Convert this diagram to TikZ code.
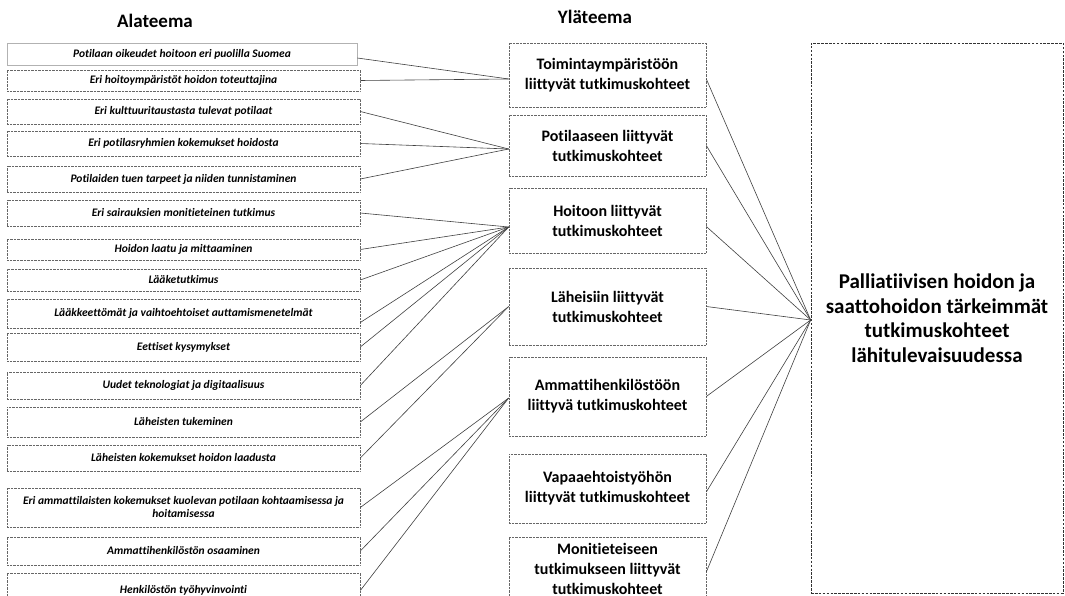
\documentclass[tikz,border=0pt]{standalone}
\usepackage{fontspec}
\setmainfont{Carlito}[Ligatures=NoCommon]
\usetikzlibrary{calc}
\begin{document}
\begin{tikzpicture}[x=1pt,y=-1pt,
  subbox/.style={rectangle, draw=black!60, dash pattern=on 0.7pt off 0.7pt, line width=0.6pt,
    inner sep=0pt, minimum width=353pt, align=center,
    font=\fontsize{11.5}{13}\selectfont\bfseries\itshape},
  midbox/.style={rectangle, draw=black!60, dash pattern=on 0.7pt off 0.7pt, line width=0.6pt,
    inner sep=0pt, minimum width=197pt, align=center,
    font=\fontsize{16}{20}\selectfont\bfseries},
  bigbox/.style={rectangle, draw=black!80, dash pattern=on 2.6pt off 1.3pt, line width=0.7pt,
    inner sep=0pt, minimum width=252pt, minimum height=550pt, align=center,
    font=\fontsize{21}{24.5}\selectfont\bfseries},
  titletext/.style={font=\fontsize{19}{22}\selectfont\bfseries, inner sep=0pt},
  link/.style={draw=black!75, line width=0.6pt}
]
\useasboundingbox (0,0) rectangle (1065,596);
\fill[white] (0,0) rectangle (1065,596);

\node[titletext] (t1) at (155,21) {Alateema};
\node[titletext] (t2) at (595,17) {Yläteema};

% left column
\node[subbox, draw=black!30, solid, minimum width=350pt, minimum height=22pt] (b1) at (182,54) {Potilaan oikeudet hoitoon eri puolilla Suomea};
\node[subbox, minimum height=21pt] (b2) at (183.5,80.5) {Eri hoitoympäristöt hoidon toteuttajina};
\node[subbox, minimum height=25pt] (b3) at (183.5,111.5) {Eri kulttuuritaustasta tulevat potilaat};
\node[subbox, minimum height=25pt] (b4) at (183.5,143.5) {Eri potilasryhmien kokemukset hoidosta};
\node[subbox, minimum height=26pt] (b5) at (183.5,179) {Potilaiden tuen tarpeet ja niiden tunnistaminen};
\node[subbox, minimum height=26pt] (b6) at (183.5,213) {Eri sairauksien monitieteinen tutkimus};
\node[subbox, minimum height=21pt] (b7) at (183.5,249.5) {Hoidon laatu ja mittaaminen};
\node[subbox, minimum height=22pt] (b8) at (183.5,280) {Lääketutkimus};
\node[subbox, minimum height=29pt] (b9) at (183.5,313.5) {Lääkkeettömät ja vaihtoehtoiset auttamismenetelmät};
\node[subbox, minimum height=28pt] (b10) at (183.5,347) {Eettiset kysymykset};
\node[subbox, minimum height=27pt] (b11) at (183.5,385.5) {Uudet teknologiat ja digitaalisuus};
\node[subbox, minimum height=30pt] (b12) at (183.5,422) {Läheisten tukeminen};
\node[subbox, minimum height=26pt] (b13) at (183.5,458) {Läheisten kokemukset hoidon laadusta};
\node[subbox, minimum height=39pt] (b14) at (183.5,507.5) {Eri ammattilaisten kokemukset kuolevan potilaan kohtaamisessa ja\\hoitamisessa};
\node[subbox, minimum height=28pt] (b15) at (183.5,551) {Ammattihenkilöstön osaaminen};
\node[subbox, minimum height=35pt] (b16) at (183.5,590.5) {Henkilöstön työhyvinvointi};

% middle column
\node[midbox, minimum height=64pt] (A) at (607.5,75) {Toimintaympäristöön\\liittyvät tutkimuskohteet};
\node[midbox, minimum height=61pt] (B) at (607.5,145.5) {Potilaaseen liittyvät\\tutkimuskohteet};
\node[midbox, minimum height=65pt] (C) at (607.5,220.5) {Hoitoon liittyvät\\tutkimuskohteet};
\node[midbox, minimum height=77pt] (D) at (607.5,306.5) {Läheisiin liittyvät\\tutkimuskohteet};
\node[midbox, minimum height=79pt] (E) at (607.5,396.5) {Ammattihenkilöstöön\\liittyvä tutkimuskohteet};
\node[midbox, minimum height=69pt] (F) at (607.5,488.5) {Vapaaehtoistyöhön\\liittyvät tutkimuskohteet};
\node[midbox, minimum height=63pt] (G) at (607.5,568.5) {Monitieteiseen\\tutkimukseen liittyvät\\tutkimuskohteet};

% right box
\node[bigbox] (P) at (937,318) {Palliatiivisen hoidon ja\\saattohoidon tärkeimmät\\tutkimuskohteet\\lähitulevaisuudessa};

% connection points
\coordinate (Ain) at ($(A.west)+(0,4)$);
\coordinate (Bin) at ($(B.west)+(0,3.5)$);
\coordinate (Cin) at ($(C.west)+(0,6.5)$);
\coordinate (Din) at (D.west);
\coordinate (Ein) at ($(E.west)+(0,1.5)$);
\coordinate (Pin) at ($(P.west)+(0,2)$);
\coordinate (b1out) at ($(b1.east)+(0,4)$);
\coordinate (b9out) at ($(b9.east)+(0,9)$);

% left to middle
\draw[link] (b1out) -- (Ain);
\draw[link] (b2.east) -- (Ain);
\draw[link] (b3.east) -- (Bin);
\draw[link] (b4.east) -- (Bin);
\draw[link] (b5.east) -- (Bin);
\draw[link] (b6.east) -- (Cin);
\draw[link] (b7.east) -- (Cin);
\draw[link] (b8.east) -- (Cin);
\draw[link] (b9out) -- (Cin);
\draw[link] (b10.east) -- (Cin);
\draw[link] (b11.east) -- (Cin);
\draw[link] (b12.east) -- (Din);
\draw[link] (b13.east) -- (Din);
\draw[link] (b14.east) -- (Ein);
\draw[link] (b15.east) -- (Ein);
\draw[link] (b16.east) -- (Ein);

% middle to right
\draw[link] ($(A.east)+(0,4)$) -- (Pin);
\draw[link] (B.east) -- (Pin);
\draw[link] ($(C.east)+(0,6)$) -- (Pin);
\draw[link] (D.east) -- (Pin);
\draw[link] (E.east) -- (Pin);
\draw[link] ($(F.east)+(0,3.5)$) -- (Pin);
\draw[link] ($(G.east)+(0,3.5)$) -- (Pin);
\end{tikzpicture}
\end{document}
